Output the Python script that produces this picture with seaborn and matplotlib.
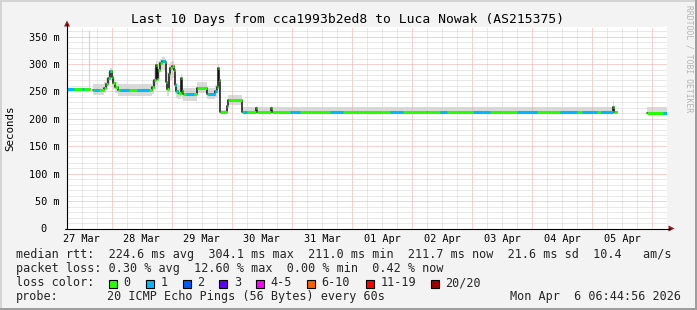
import numpy as np
import pandas as pd
import matplotlib
matplotlib.use("Agg")
import matplotlib.pyplot as plt
import seaborn as sns
from matplotlib.patches import Rectangle, Polygon
from matplotlib.lines import Line2D

# ---------------- data ----------------
TITLE = "Last 10 Days from cca1993b2ed8 to Luca Nowak (AS215375)"

# hours since 27 Mar 00:00, median RTT in ms (NaN = no data)
hours = [6.1, 15.1, 16.4, 20.9, 21.7, 22.5, 23.3, 23.9, 24.5, 25.3, 26.5,
         40.1, 40.9, 41.5, 41.9, 42.5, 43.3, 44.1, 45.3, 45.7, 46.1, 46.7,
         47.3, 48.1, 48.7, 49.1, 49.7, 50.5, 51.5, 51.9, 52.5, 57.9, 62.2,
         65.3, 65.9, 66.5, 66.9, 67.3, 69.9, 70.3, 76.0, 81.5, 81.9, 87.5,
         87.9, 150.0, 224.4, 224.8, 226.0, 238.0, 246.1]
median_ms = [254, np.nan, 253, 257, 263, 275, 287, 276, 265, 258, 252.5,
             258, 270, 298, 273, 290, 302, 306, 304, 268, 254, 282,
             293, 296, 290, 262, 250, 247, 274, 250, 245, 257, 245.5,
             250, 258, 292, 270, 212, 224, 234, 213, 219, 213, 219,
             213, 212.5, 221, 212, np.nan, 211.5, 211.5]
smoke_lo = [244, np.nan, 243, 248, 252, 262, 270, 262, 254, 247, 242,
            246, 252, 262, 258, 272, 285, 290, 286, 250, 242, 255,
            270, 275, 262, 245, 238, 236, 245, 236, 233, 248, 236,
            240, 245, 255, 240, 209, 212, 226, 210, 211, 210, 211,
            210, 210, 212, 210, np.nan, 209, 209]
smoke_hi = [266, np.nan, 263, 268, 274, 286, 292, 284, 275, 268, 263,
            270, 292, 305, 300, 305, 310, 312, 310, 300, 285, 298,
            303, 305, 300, 280, 266, 262, 282, 262, 256, 268, 256,
            262, 272, 300, 282, 216, 232, 244, 222, 224, 222, 224,
            221, 221, 232, 218, np.nan, 221, 221]

# isolated tall smoke spike
spike_hours = [14.9]
spike_low = [255]
spike_high = [362]

# periods where the median line shows 1 lost ping
loss1_spans = [(6.1, 8.8), (12.1, 12.8), (16.8, 18.8), (23.0, 23.6),
               (27.4, 30.8), (34.1, 38.8), (44.1, 45.3), (49.3, 50.5),
               (53.5, 57.0), (62.5, 65.9), (76.5, 78.0), (95.3, 99.3),
               (111.3, 116.5), (135.3, 140.5), (155.3, 158.1),
               (168.5, 175.3), (186.1, 194.1), (203.3, 210.0),
               (212.0, 218.0), (219.5, 224.4), (244.5, 246.1)]

day_labels = ["27 Mar", "28 Mar", "29 Mar", "30 Mar", "31 Mar",
              "01 Apr", "02 Apr", "03 Apr", "04 Apr", "05 Apr"]
y_ticks = [0, 50, 100, 150, 200, 250, 300, 350]
y_tick_labels = ["0  ", "50 m", "100 m", "150 m", "200 m", "250 m", "300 m", "350 m"]

median_row = "median rtt:  224.6 ms avg  304.1 ms max  211.0 ms min  211.7 ms now  21.6 ms sd  10.4   am/s"
loss_row = "packet loss: 0.30 % avg  12.60 % max  0.00 % min  0.42 % now"
loss_labels = ["0", "1", "2", "3", "4-5", "6-10", "11-19", "20/20"]
loss_colors = ["#26ff00", "#00b8ff", "#0059ff", "#5e00ff", "#ff00ff",
               "#ff5e00", "#ff0000", "#a10000"]
probe_text = "20 ICMP Echo Pings (56 Bytes) every 60s"
stamp_text = "Mon Apr  6 06:44:56 2026"

# ---------------- layout ----------------
W, H = 697, 310
MONO = "DejaVu Sans Mono"

def fx(px):
    return px / W

def fy(py):
    return 1 - py / H

sns.set_theme(style="white")
plt.rcParams["font.family"] = [MONO, "DejaVu Sans"]

fig = plt.figure(figsize=(W / 100, H / 100), dpi=100, facecolor="#f3f3f3")
ax_l, ax_r, ax_t, ax_b = 67, 667.3, 27.3, 228.5
ax = fig.add_axes([fx(ax_l), fy(ax_b), (ax_r - ax_l) / W, (ax_b - ax_t) / H])
ax.set_facecolor("white")
XMIN, XMAX = 6.1, 246.1
YMAX = 367
ax.set_xlim(XMIN, XMAX)
ax.set_ylim(0, YMAX)

# grid
MAJ, MIN = "#eaa6a6", "#d2d2d2"
for h in range(0, 247, 6):
    if XMIN < h < XMAX:
        col = MAJ if h % 24 == 0 else MIN
        ax.axvline(h, color=col, lw=0.72, ls=(0, (1, 1)), zorder=1.5)
for v in range(10, YMAX, 10):
    col = MAJ if v % 50 == 0 else MIN
    ax.axhline(v, color=col, lw=0.72, ls=(0, (1, 1)), zorder=1.5)

# smoke
ax.fill_between(hours, smoke_lo, smoke_hi, step="post", color="#dadada",
                lw=0, zorder=1)
ax.vlines(spike_hours, spike_low, spike_high, color="#d6d6d6", lw=0.9, zorder=1)

# black median step line built from the data
sx, sy, sg = [], [], []
seg = 0
for i in range(len(hours) - 1):
    m = median_ms[i]
    if np.isnan(m):
        seg += 1
        continue
    sx += [hours[i], hours[i + 1]]
    sy += [m, m]
    sg += [seg, seg]
step_df = pd.DataFrame({"hours": sx, "median": sy, "seg": sg})
sns.lineplot(data=step_df, x="hours", y="median", units="seg", estimator=None,
             sort=False, color="#111111", lw=1.1, ax=ax, legend=False, zorder=3)

# coloured (loss) horizontal segments
for i in range(len(hours) - 1):
    m = median_ms[i]
    if np.isnan(m):
        continue
    ax.hlines(m, hours[i], hours[i + 1], color=loss_colors[0], lw=2.2, zorder=4)
    for a, b in loss1_spans:
        lo, hi = max(a, hours[i]), min(b, hours[i + 1])
        if hi > lo:
            ax.hlines(m, lo, hi, color=loss_colors[1], lw=2.2, zorder=5)

# ticks
ax.set_xticks([12 + 24 * k for k in range(len(day_labels))])
ax.set_xticklabels(day_labels, family=MONO, fontsize=7.4)
ax.set_xticks([h for h in range(12, 247, 6)], minor=True)
ax.set_yticks(y_ticks)
ax.set_yticklabels(y_tick_labels, family=MONO, fontsize=7.4)
ax.tick_params(axis="x", which="major", length=0, pad=4.2, colors="black")
ax.tick_params(axis="x", which="minor", length=2.2, direction="inout", width=0.7, color="black")
ax.tick_params(axis="y", which="major", length=2.2, direction="out", width=0.7, pad=3.2, colors="black")
for s in ax.spines.values():
    s.set_visible(False)
ax.set_xlabel("")
ax.set_ylabel("")

# axes lines with arrows
fig.add_artist(Line2D([fx(ax_l), fx(ax_l)], [fy(ax_b + 0.5), fy(24)], color="black", lw=0.8))
fig.add_artist(Line2D([fx(ax_l - 2), fx(670)], [fy(ax_b), fy(ax_b)], color="black", lw=0.8))
arrow_col = "#8b1a1a"
fig.add_artist(Polygon([[fx(64), fy(26.5)], [fx(70), fy(26.5)], [fx(67), fy(20.5)]],
                       closed=True, color=arrow_col, lw=0))
fig.add_artist(Polygon([[fx(668.5), fy(ax_b - 3)], [fx(668.5), fy(ax_b + 3)], [fx(674.5), fy(ax_b)]],
                       closed=True, color=arrow_col, lw=0))

# title & labels
fig.text(fx(348), fy(19), TITLE, ha="center", va="center", family=MONO,
         fontsize=9.4, color="black")
fig.text(fx(10.5), fy(128), "Seconds", rotation=90, ha="center", va="center",
         family=MONO, fontsize=7.8, color="black")
fig.text(fx(689), fy(5), "RRDTOOL / TOBI OETIKER", rotation=270, ha="center",
         va="top", family=MONO, fontsize=5.8, color="#b4b4b4")

# legend rows
LFS = 8.45
fig.text(fx(16), fy(258.3), median_row, family=MONO, fontsize=LFS, va="baseline")
fig.text(fx(16), fy(272.3), loss_row, family=MONO, fontsize=LFS, va="baseline")
fig.text(fx(16), fy(286.3), "loss color:", family=MONO, fontsize=LFS, va="baseline")
sw_x = [108.5, 145.8, 182.5, 219.1, 255.8, 306.5, 365.5, 430.5]
for x0, lab, col in zip(sw_x, loss_labels, loss_colors):
    fig.add_artist(Rectangle((fx(x0), fy(288.2)), 8.2 / W, 8.2 / H,
                             facecolor=col, edgecolor="black", lw=0.8))
    fig.text(fx(x0 + 14.7), fy(286.3), lab, family=MONO, fontsize=LFS, va="baseline")
fig.text(fx(16), fy(300.3), "probe:", family=MONO, fontsize=LFS, va="baseline")
fig.text(fx(107.3), fy(300.3), probe_text, family=MONO, fontsize=LFS, va="baseline")
fig.text(fx(681), fy(300.3), stamp_text, family=MONO, fontsize=LFS, va="baseline", ha="right")

# 3-D frame
fig.add_artist(Rectangle((0, fy(1.7)), 1, 1.7 / H, facecolor="#d4d4d4", lw=0))
fig.add_artist(Rectangle((0, 0), 1.7 / W, 1, facecolor="#d4d4d4", lw=0))
fig.add_artist(Rectangle((fx(694.5), 0), 2.5 / W, 1, facecolor="#9e9e9e", lw=0))
fig.add_artist(Rectangle((0, 0), 1, 2.5 / H, facecolor="#9e9e9e", lw=0))

fig.savefig("out.png", dpi=100, facecolor=fig.get_facecolor())
